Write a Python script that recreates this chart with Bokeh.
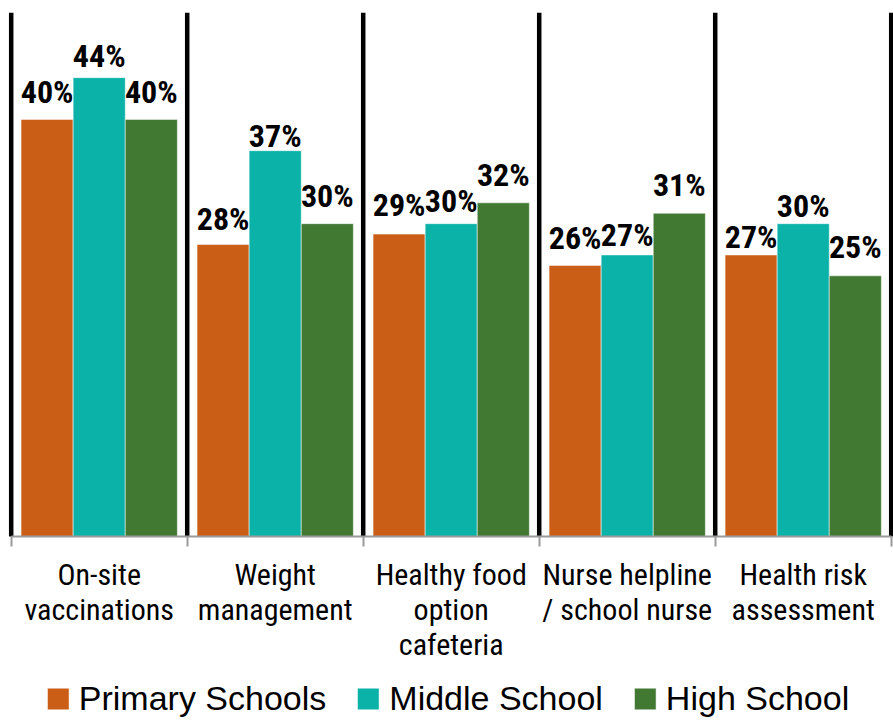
from bokeh.plotting import figure
from bokeh.models import (ColumnDataSource, Range1d, FixedTicker, LinearAxis,
                          Legend, LegendItem)
from bokeh.core.properties import value
from bokeh.embed import file_html
from bokeh.resources import INLINE

# ---- data ----
categories = ["On-site\nvaccinations", "Weight\nmanagement",
              "Healthy food\noption\ncafeteria",
              "Nurse helpline\n/ school nurse", "Health risk\nassessment"]
series = ["Primary Schools", "Middle School", "High School"]
primary = [40, 28, 29, 26, 27]
middle = [44, 37, 30, 27, 30]
high = [40, 30, 32, 31, 25]

# ---- style ----
colors = ["#CB5E17", "#0AB2A8", "#417832"]
bar_w = 0.296
label_gap = [[17, 16, 19, 17, 8],   # px gap above bar, primary
             [12, 5, 13, 10, 8],    # middle
             [17, 18, 18, 18, 19]]  # high
BASE_SHIFT = 10
SEP_TOP = 50.25
COND = "Roboto Condensed"

n = len(categories)
p = figure(frame_width=893, frame_height=709, output_backend="svg",
           toolbar_location=None, x_range=Range1d(-0.0608, 5.013),
           y_range=Range1d(-17.74, 50.25), x_axis_location=None,
           y_axis_location=None, min_border_left=0, min_border_right=0,
           min_border_top=12, min_border_bottom=0)
p.outline_line_color = None
p.background_fill_color = "white"
p.grid.grid_line_color = None

bounds = list(range(n + 1))
centers = [i + 0.5 for i in range(n)]

# vertical separators between categories
sep = ColumnDataSource(dict(x=bounds))
p.segment(x0="x", y0=0, x1="x", y1=SEP_TOP, source=sep,
          line_color="black", line_width=4.5)

# axis at value 0 with category labels at centres, tick marks at boundaries
ax = LinearAxis(fixed_location=0, bounds=(0, n),
                ticker=FixedTicker(ticks=centers, minor_ticks=bounds))
ax.major_label_overrides = {c: cat for c, cat in zip(centers, categories)}
ax.major_tick_line_color = None
ax.major_tick_out = 0
ax.minor_tick_out = 10
ax.minor_tick_in = 0
ax.minor_tick_line_color = "#9A9A9A"
ax.minor_tick_line_width = 2
ax.axis_line_color = "#9A9A9A"
ax.axis_line_width = 2
ax.major_label_text_font = COND
ax.major_label_text_font_size = "30px"
ax.major_label_text_color = "black"
ax.major_label_text_line_height = 1.0
ax.major_label_standoff = 10
p.add_layout(ax, "below")

items = []
for k, (name, vals) in enumerate(zip(series, [primary, middle, high])):
    xs = [c + (k - 1) * bar_w for c in centers]
    src = ColumnDataSource(dict(x=xs, top=vals,
                                label=[f"{v}%" for v in vals],
                                off=[-(g + BASE_SHIFT) for g in label_gap[k]]))
    r = p.vbar(x="x", top="top", bottom=0, width=bar_w, source=src,
               fill_color=colors[k], line_color="white", line_alpha=0.5,
               line_width=1)
    p.text(x="x", y="top", text="label", y_offset="off", source=src,
           text_align="center", text_baseline="alphabetic",
           text_font=value(COND), text_font_style="bold",
           text_font_size="32px", text_color="black")
    items.append(LegendItem(label=name, renderers=[r]))

legend = Legend(items=items, orientation="horizontal",
                location="bottom_center",
                glyph_width=27, glyph_height=27, label_standoff=8,
                spacing=28, padding=0, margin=3,
                label_text_font="Liberation Sans",
                label_text_font_size="34px", label_text_color="black",
                border_line_color=None, background_fill_alpha=0)
p.add_layout(legend)

open("out.html", "w").write(file_html(p, INLINE))
